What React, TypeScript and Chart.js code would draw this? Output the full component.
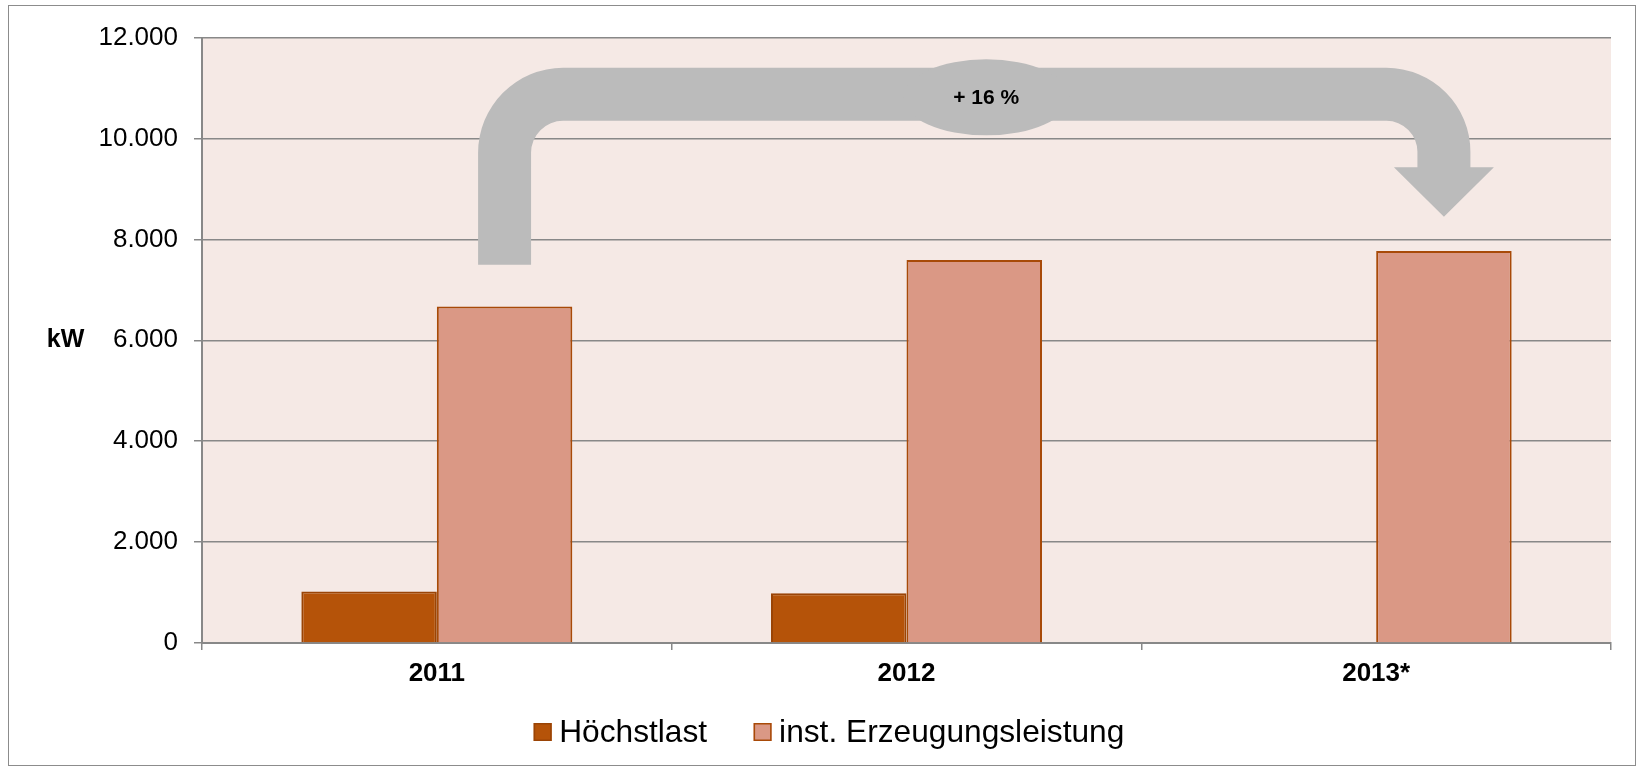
import React, { useEffect, useRef } from "react";
import { Chart, registerables } from "chart.js";

Chart.register(...registerables);

// ---- data ----
const categories = ["2011", "2012", "2013*"];
const seriesNames = ["Höchstlast", "inst. Erzeugungsleistung"];
const peakLoad: (number | null)[] = [1020, 985, null];
const installedCapacity: number[] = [6670, 7590, 7770];
const yMin = 0;
const yMax = 12000;
const yStep = 2000;
const axisTitle = "kW";
const growthLabel = "+ 16 %";
// arrow annotation, in value units of the y axis
const arrowStartValue = 7500;
const arrowBandTopValue = 11400;
const arrowBandBottomValue = 10350;
const arrowHeadBaseValue = 9430;
const arrowHeadTipValue = 8450;

const FONT = '"Liberation Sans", Arial, sans-serif';
const seriesFill = ["#B55309", "#DA9885"];
const seriesBorder = ["#9A4406", "#A84A08"];

function formatThousands(v: number): string {
  return String(v).replace(/\B(?=(\d{3})+(?!\d))/g, ".");
}

const bgPlugin = {
  id: "plotBg",
  beforeDraw(chart: any) {
    const { ctx, chartArea: a } = chart;
    ctx.save();
    ctx.fillStyle = "#F5E9E5";
    ctx.fillRect(a.left, a.top, a.right - a.left, a.bottom - a.top);
    ctx.restore();
  },
};

const arrowPlugin = {
  id: "growthArrow",
  afterDatasetsDraw(chart: any) {
    const { ctx } = chart;
    const meta = chart.getDatasetMeta(1);
    const ys = chart.scales.y;
    const xL = meta.data[0].x;
    const xR = meta.data[2].x;
    const hw = 26.5;
    const yTop = ys.getPixelForValue(arrowBandTopValue);
    const yBot = ys.getPixelForValue(arrowBandBottomValue);
    const yStartL = ys.getPixelForValue(arrowStartValue);
    const yHead = ys.getPixelForValue(arrowHeadBaseValue);
    const yTip = ys.getPixelForValue(arrowHeadTipValue);
    const th = yBot - yTop;
    const RoL = 85;
    const RoR = 84;
    const cxL = xL - hw + RoL;
    const cyL = yTop + RoL;
    const cxR = xR + hw - RoR;
    const cyR = yTop + RoR;
    const headHalf = 50;

    ctx.save();
    ctx.fillStyle = "#BBBBBB";
    ctx.beginPath();
    ctx.moveTo(xL - hw, yStartL);
    ctx.lineTo(xL - hw, cyL);
    ctx.arc(cxL, cyL, RoL, Math.PI, 1.5 * Math.PI, false);
    ctx.lineTo(cxR, yTop);
    ctx.arc(cxR, cyR, RoR, 1.5 * Math.PI, 2 * Math.PI, false);
    ctx.lineTo(xR + hw, yHead);
    ctx.lineTo(xR + headHalf, yHead);
    ctx.lineTo(xR, yTip);
    ctx.lineTo(xR - headHalf, yHead);
    ctx.lineTo(xR - hw, yHead);
    ctx.lineTo(xR - hw, cyR);
    ctx.arc(cxR, cyR, Math.max(RoR - th, 1), 0, 1.5 * Math.PI, true);
    ctx.lineTo(cxL, yBot);
    ctx.arc(cxL, cyL, Math.max(RoL - th, 1), 1.5 * Math.PI, Math.PI, true);
    ctx.lineTo(xL + hw, yStartL);
    ctx.closePath();
    ctx.fill();

    // ellipse with label
    const ex = (xL + xR) / 2 + 12;
    const ey = (yTop + yBot) / 2 + 3;
    ctx.beginPath();
    ctx.ellipse(ex, ey, 83, 38, 0, 0, 2 * Math.PI);
    ctx.fill();
    ctx.fillStyle = "#000";
    ctx.font = `bold 21px ${FONT}`;
    ctx.textAlign = "center";
    ctx.textBaseline = "middle";
    ctx.fillText(growthLabel, ex, ey + 1);
    ctx.restore();
  },
};

const titleAndLegendPlugin = {
  id: "titleLegend",
  afterDraw(chart: any) {
    const { ctx, chartArea: a, width } = chart;
    ctx.save();
    // axis title (horizontal)
    ctx.fillStyle = "#000";
    ctx.font = `bold 25px ${FONT}`;
    ctx.textAlign = "center";
    ctx.textBaseline = "middle";
    ctx.fillText(axisTitle, 56.5, (a.top + a.bottom) / 2);

    // legend
    const box = 18;
    const gap = 7.5;
    const itemGap = 46.5;
    ctx.font = `31.7px ${FONT}`;
    const names = chart.data.datasets.map((d: any) => d.label);
    const widths = names.map((n: string) => ctx.measureText(n).width);
    let total = 0;
    widths.forEach((w: number, i: number) => {
      total += box + gap + w + (i < widths.length - 1 ? itemGap : 0);
    });
    let x = width / 2 + 7 - total / 2;
    const boxTop = 717;
    const baseline = 735.7;
    chart.data.datasets.forEach((d: any, i: number) => {
      ctx.fillStyle = d.backgroundColor;
      ctx.fillRect(x, boxTop, box, box);
      ctx.strokeStyle = d.borderColor;
      ctx.lineWidth = 1.5;
      ctx.strokeRect(x + 0.75, boxTop + 0.75, box - 1.5, box - 1.5);
      ctx.fillStyle = "#000";
      ctx.textAlign = "left";
      ctx.textBaseline = "alphabetic";
      ctx.fillText(names[i], x + box + gap, baseline);
      x += box + gap + widths[i] + itemGap;
    });
    ctx.restore();
  },
};

export default function App() {
  const canvasRef = useRef<HTMLCanvasElement | null>(null);

  useEffect(() => {
    if (!canvasRef.current) return;
    Chart.defaults.font.family = FONT;
    const chart = new Chart(canvasRef.current, {
      type: "bar",
      data: {
        labels: categories,
        datasets: [
          {
            label: seriesNames[0],
            data: peakLoad,
            backgroundColor: seriesFill[0],
            borderColor: seriesBorder[0],
            borderWidth: 2,
            categoryPercentage: 0.577,
            barPercentage: 1,
          },
          {
            label: seriesNames[1],
            data: installedCapacity,
            backgroundColor: seriesFill[1],
            borderColor: seriesBorder[1],
            borderWidth: 2,
            categoryPercentage: 0.577,
            barPercentage: 1,
          },
        ],
      },
      options: {
        animation: false,
        responsive: false,
        devicePixelRatio: 1,
        layout: { padding: { top: 29, right: 24, bottom: 72, left: 0 } },
        plugins: {
          legend: { display: false },
          tooltip: { enabled: false },
        },
        scales: {
          x: {
            grid: {
              display: true,
              drawOnChartArea: false,
              color: "#888888",
              lineWidth: 1.5,
              tickLength: 7,
              offset: true,
            },
            border: { color: "#888888", width: 2 },
            ticks: {
              color: "#000",
              font: { size: 26, weight: "bold", family: FONT },
              padding: 8,
            },
            afterFit: (s: any) => {
              s.height = 50;
            },
          },
          y: {
            min: yMin,
            max: yMax,
            ticks: {
              stepSize: yStep,
              color: "#000",
              font: { size: 26, family: FONT },
              padding: 16,
              callback: (v: any) => formatThousands(Number(v)),
            },
            grid: { color: "#888888", lineWidth: 1.5, tickLength: 8 },
            border: { color: "#888888", width: 2 },
            afterFit: (s: any) => {
              s.width = 193;
            },
          },
        },
      } as any,
      plugins: [bgPlugin, arrowPlugin, titleAndLegendPlugin],
    });
    return () => chart.destroy();
  }, []);

  return (
    <div
      style={{
        position: "fixed",
        left: 8,
        top: 5,
        width: 1628,
        height: 761,
        border: "1px solid #8C8C8C",
        boxSizing: "border-box",
        background: "#fff",
      }}
    >
      <canvas
        ref={canvasRef}
        width={1626}
        height={759}
        style={{ display: "block", width: 1626, height: 759 }}
      />
    </div>
  );
}
